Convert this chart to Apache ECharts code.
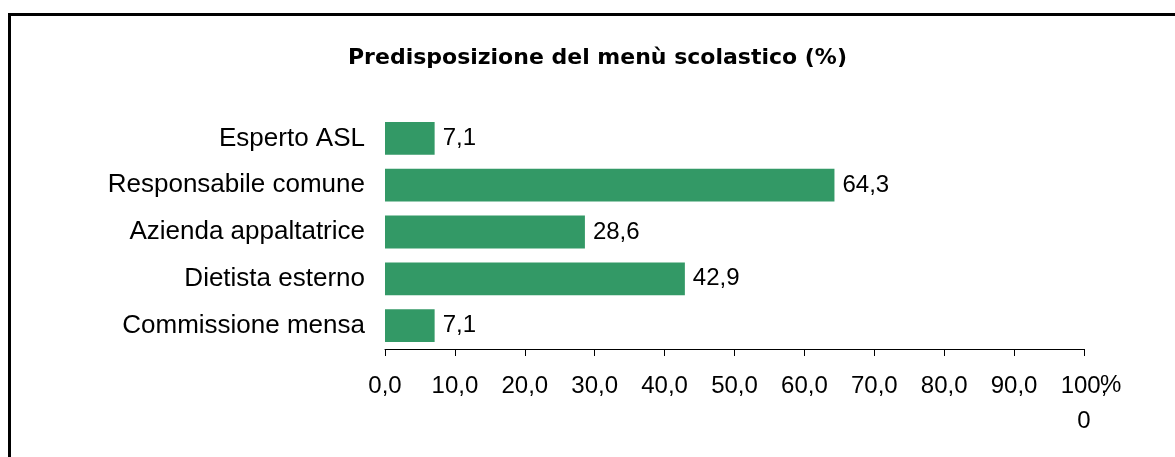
<!DOCTYPE html>
<html><head><meta charset="utf-8">
<script src="https://cdn.jsdelivr.net/npm/echarts@6/dist/echarts.min.js"></script>
<style>html,body{margin:0;padding:0;background:#fff}#c{width:1175px;height:457px}</style>
</head><body><div id="c"></div>
<script>
const categories = ['Esperto ASL','Responsabile comune','Azienda appaltatrice','Dietista esterno','Commissione mensa'];
const values = [7.1, 64.3, 28.6, 42.9, 7.1];
const ticks = [0,10,20,30,40,50,60,70,80,90,100];
const titleText = 'Predisposizione del menù scolastico (%)';
const fmt = v => v.toFixed(1).replace('.', ',');
const chart = echarts.init(document.getElementById('c'));
chart.setOption({
  animation:false,
  backgroundColor:'#fff',
  title:{text:titleText,left:343,top:42,textStyle:{fontFamily:'DejaVu Sans',fontWeight:'bold',fontSize:22,color:'#000'}},
  graphic:[{type:'polyline',shape:{points:[[9.5,457],[9.5,14.5],[1175,14.5]]},style:{stroke:'#000',lineWidth:3,fill:null}}],
  grid:{left:385,right:91,top:115,bottom:108,containLabel:false},
  xAxis:{type:'value',min:0,max:100,interval:10,
    name:'\n\n%',nameLocation:'end',nameGap:16,nameMoveOverlap:false,
    nameTextStyle:{fontFamily:'Liberation Sans',fontSize:24,color:'#000',verticalAlign:'middle',lineHeight:36},
    axisLine:{show:true,lineStyle:{color:'#000',width:1}},
    axisTick:{show:true,length:7,lineStyle:{color:'#000'}},
    splitLine:{show:false},
    axisLabel:{margin:20,fontFamily:'Liberation Sans',fontSize:24,color:'#000',lineHeight:35,
      formatter:v => v===100 ? '100,\n0' : fmt(v)}},
  yAxis:{type:'category',data:categories,inverse:true,
    axisLine:{show:false},axisTick:{show:false},
    axisLabel:{margin:20,fontFamily:'Liberation Sans',fontSize:26,color:'#000'}},
  series:[{type:'bar',data:values,barCategoryGap:'30%',
    itemStyle:{color:'#339966'},
    label:{show:true,position:'right',distance:8,fontFamily:'Liberation Sans',fontSize:24,color:'#000',formatter:p=>fmt(p.value)}}]
});
</script></body></html>
